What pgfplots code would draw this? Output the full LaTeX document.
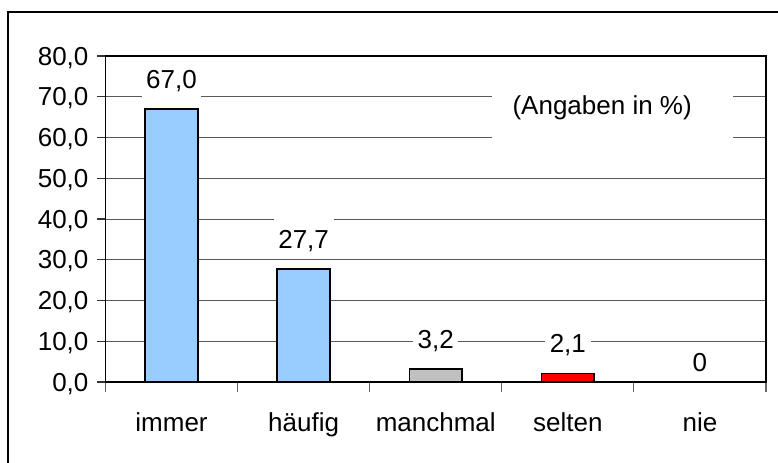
\documentclass[border=0pt]{standalone}
\usepackage{pgfplots}
\pgfplotsset{compat=1.18}
\usepackage{fontspec}
\setmainfont{Liberation Sans}
\definecolor{barblue}{HTML}{99CCFF}
\definecolor{bargray}{HTML}{C0C0C0}
\definecolor{barred}{HTML}{FF0000}
\newcommand{\lf}{\fontsize{19.5}{23}\selectfont}
\begin{document}
\begin{tikzpicture}
\useasboundingbox (0pt,0pt) rectangle (583.5pt,346.5pt);
\clip (0pt,0pt) rectangle (583.5pt,346.5pt);
\draw[line width=0.8pt] (6pt,-20pt) rectangle (600pt,337.5pt);
\begin{axis}[
  at={(79.1pt,60pt)}, anchor=south west,
  scale only axis, width=495.4pt, height=244.5pt,
  xmin=-0.5, xmax=4.5, ymin=0, ymax=80,
  ytick={0,10,...,80},
  xtick={-0.5,0.5,1.5,2.5,3.5,4.5},
  xticklabels={immer,häufig,manchmal,selten,nie},
  x tick label as interval,
  tick align=outside,
  xtick pos=left, ytick pos=left,
  xtick style={black!60, line width=0.8pt, /pgfplots/major tick length=7.5pt},
  ytick style={black!80, line width=0.8pt, /pgfplots/major tick length=6pt},
  ymajorgrids,
  grid style={black!65, line width=0.7pt},
  axis line style={black, line width=0.8pt},
  /pgf/number format/assume math mode=true,
  yticklabel={\pgfmathprintnumber[fixed,fixed zerofill,precision=1,use comma]{\tick}},
  yticklabel style={font=\lf, anchor=east, text depth=0pt, xshift=-5pt},
  xticklabel style={font=\lf, anchor=north, text height=14pt, text depth=4pt, yshift=-15pt},
  vlabel/.style={
    nodes near coords={\pgfmathprintnumber[fixed,fixed zerofill,precision=1,use comma,assume math mode=true]{\pgfplotspointmeta}},
    nodes near coords style={font=\lf, anchor=south, yshift=7pt, fill=white,
      inner xsep=3.5pt, inner ysep=8pt, text height=14pt, text depth=0pt}},
]
\fill[white] (axis cs:2.426,58.9) rectangle (axis cs:4.25,75.1);
\node[font=\lf, anchor=center] at (axis cs:3.26,67.2) {(Angaben in \%)};
\addplot[ybar, bar width=0.4, fill=barblue, draw=black, line width=1.2pt, vlabel]
  coordinates {(0,67.0) (1,27.7)};
\addplot[ybar, bar width=0.4, fill=bargray, draw=black, line width=1.2pt, vlabel]
  coordinates {(2,3.2)};
\addplot[ybar, bar width=0.4, fill=barred, draw=black, line width=1.2pt, vlabel]
  coordinates {(3,2.1)};
\addplot[draw=none, fill=none, mark=none,
  nodes near coords={0},
  nodes near coords style={font=\lf, anchor=south, yshift=2.5pt, fill=white,
      inner xsep=3.5pt, inner ysep=5pt, text height=14pt, text depth=0pt}]
  coordinates {(4,0)};
\end{axis}
\end{tikzpicture}
\end{document}
